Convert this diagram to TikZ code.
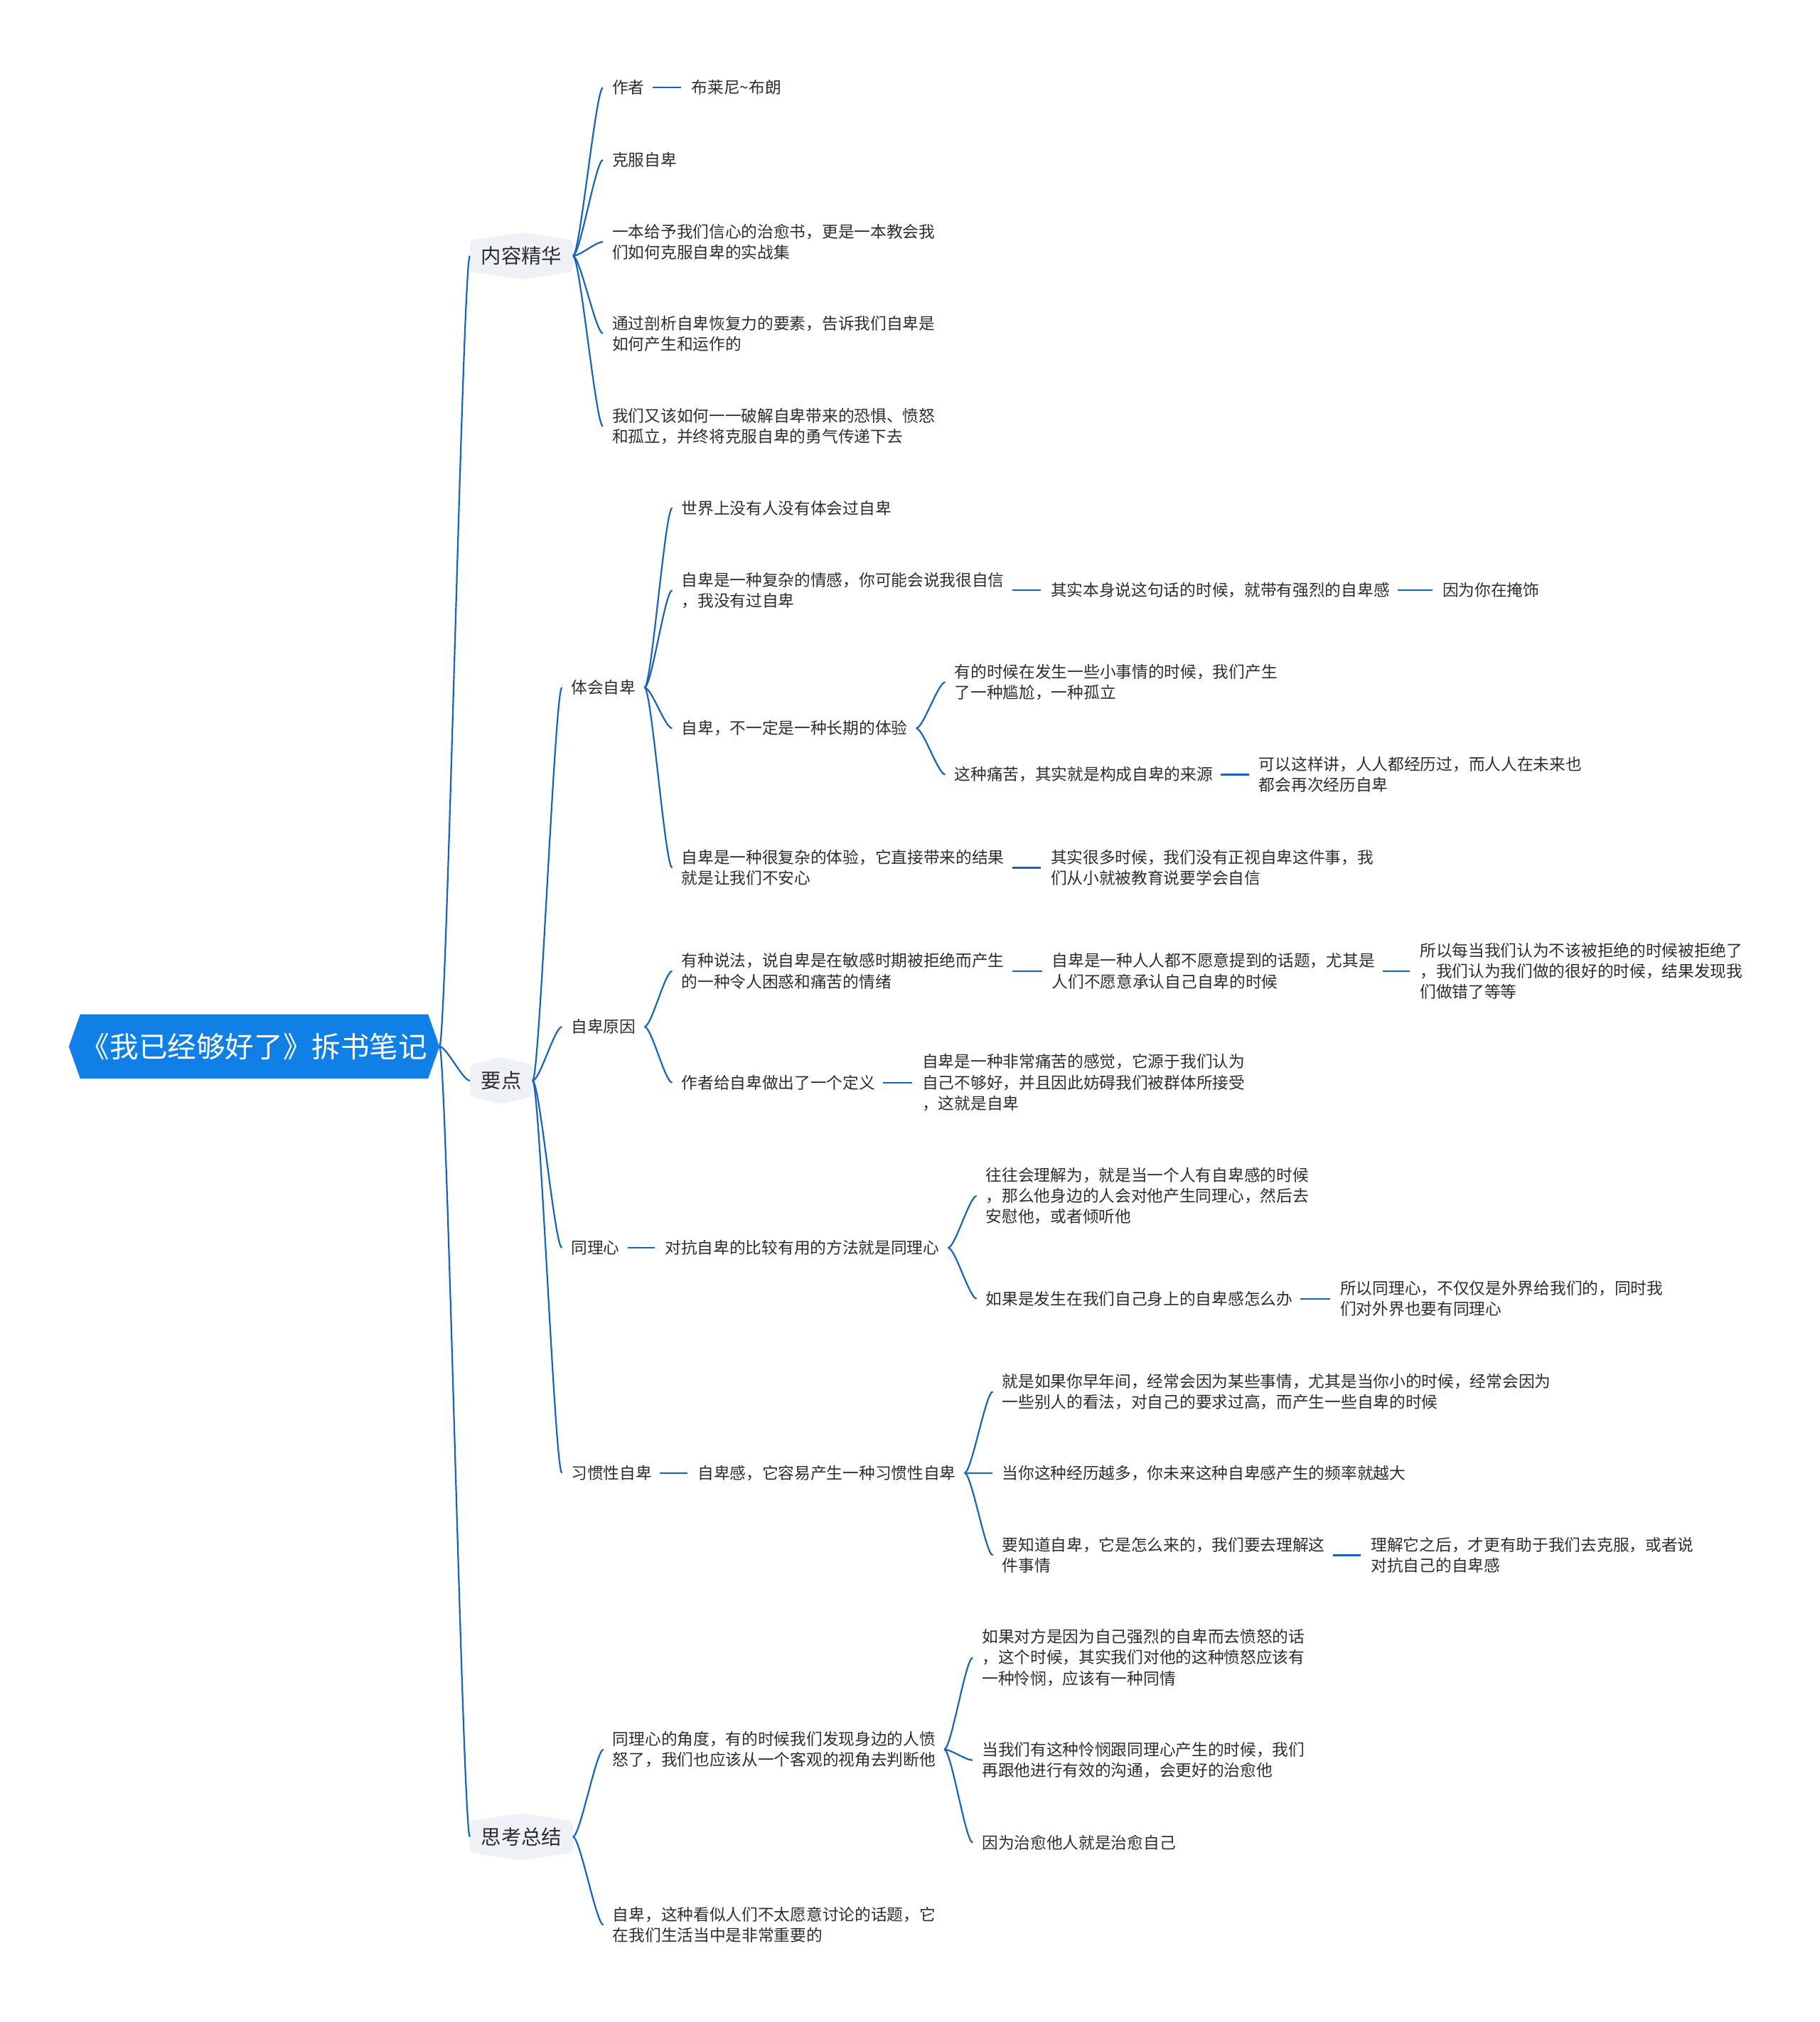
\documentclass[tikz,border=0pt]{standalone}
\usepackage{fontspec}
\setmainfont{Noto Sans CJK SC}
\usetikzlibrary{backgrounds}
\definecolor{lineblue}{RGB}{24,100,188}
\definecolor{rootblue}{RGB}{16,128,230}
\definecolor{hexfill}{RGB}{238,241,245}
\definecolor{txtc}{RGB}{45,45,45}
\tikzset{
  leaf/.style={font=\fontsize{22.7pt}{29.2pt}\selectfont, text=txtc, align=left, inner sep=0pt, anchor=west},
  topic/.style={font=\fontsize{28.4pt}{34pt}\selectfont, text=txtc, inner xsep=15.5pt, inner ysep=0pt, minimum height=66pt, anchor=west},
  conn/.style={draw=lineblue, line width=2.2pt},
  hexbg/.style={fill=hexfill, rounded corners=6pt}
}
\newcommand\mycurve[2]{\draw[conn] (#1) .. controls +(5.5,0) and +(-5.5,0) .. ([xshift=-13pt]#2.west);}
\newcommand\mylink[2]{\draw[conn] ([xshift=11pt]#1.east) -- ([xshift=-14pt]#2.west);}
\newcommand\hexof[1]{\fill[hexbg] ([yshift=-11pt]#1.north west) -- (#1.north) -- ([yshift=-11pt]#1.north east) -- ([yshift=11pt]#1.south east) -- (#1.south) -- ([yshift=11pt]#1.south west) -- cycle;}
\begin{document}
\begin{tikzpicture}[x=1.81432pt,y=-1.81432pt]
\useasboundingbox (0,0) rectangle (1411,1567.6);

% root
\node[font=\fontsize{40.6pt}{46pt}\selectfont, text=white, inner sep=0pt, minimum width=489pt, minimum height=90pt] (root) at (197.05,811.3) {《我已经够好了》拆书笔记};
\coordinate (rootR) at ([xshift=16pt]root.east);
\begin{scope}[on background layer]
\fill[rootblue] (root.north west) -- (root.north east) -- (rootR) -- (root.south east) -- (root.south west) -- ([xshift=-16pt]root.west) -- cycle;
\end{scope}

% level 1
\node[topic] (k1) at (364.3,198.4) {内容精华};
\node[topic] (k2) at (364.3,837.8) {要点};
\node[topic] (k3) at (364.3,1424.0) {思考总结};
\begin{scope}[on background layer]
\hexof{k1}\hexof{k2}\hexof{k3}
\end{scope}

% 内容精华
\node[leaf] (a1) at (474.6,68) {作者};
\node[leaf] (a1b) at (536,68) {布莱尼\textasciitilde 布朗};
\node[leaf] (a2) at (474.6,124) {克服自卑};
\node[leaf] (a3) at (474.6,187.5) {一本给予我们信心的治愈书，更是一本教会我\\们如何克服自卑的实战集};
\node[leaf] (a4) at (474.6,258.5) {通过剖析自卑恢复力的要素，告诉我们自卑是\\如何产生和运作的};
\node[leaf] (a5) at (474.6,330.5) {我们又该如何一一破解自卑带来的恐惧、愤怒\\和孤立，并终将克服自卑的勇气传递下去};

% 要点
\node[leaf] (b1) at (442.8,533) {体会自卑};
\node[leaf] (b2) at (442.8,796) {自卑原因};
\node[leaf] (b3) at (442.8,967.3) {同理心};
\node[leaf] (b4) at (442.8,1141.9) {习惯性自卑};

\node[leaf] (c1) at (528.3,393.8) {世界上没有人没有体会过自卑};
\node[leaf] (c2) at (528.3,457.6) {自卑是一种复杂的情感，你可能会说我很自信\\，我没有过自卑};
\node[leaf] (c2a) at (814.6,457.6) {其实本身说这句话的时候，就带有强烈的自卑感};
\node[leaf] (c2b) at (1118.3,457.6) {因为你在掩饰};
\node[leaf] (c3) at (528.3,564.6) {自卑，不一定是一种长期的体验};
\node[leaf] (c3a) at (740,528.8) {有的时候在发生一些小事情的时候，我们产生\\了一种尴尬，一种孤立};
\node[leaf] (c3b) at (740,600.5) {这种痛苦，其实就是构成自卑的来源};
\node[leaf] (c3c) at (976,600.5) {可以这样讲，人人都经历过，而人人在未来也\\都会再次经历自卑};
\node[leaf] (c4) at (528.3,672.7) {自卑是一种很复杂的体验，它直接带来的结果\\就是让我们不安心};
\node[leaf] (c4a) at (814.6,672.7) {其实很多时候，我们没有正视自卑这件事，我\\们从小就被教育说要学会自信};

\node[leaf] (d1) at (528.3,752.8) {有种说法，说自卑是在敏感时期被拒绝而产生\\的一种令人困惑和痛苦的情绪};
\node[leaf] (d1a) at (815.5,752.8) {自卑是一种人人都不愿意提到的话题，尤其是\\人们不愿意承认自己自卑的时候};
\node[leaf] (d1b) at (1100.8,752.8) {所以每当我们认为不该被拒绝的时候被拒绝了\\，我们认为我们做的很好的时候，结果发现我\\们做错了等等};
\node[leaf] (d2) at (528.3,839.3) {作者给自卑做出了一个定义};
\node[leaf] (d2a) at (714.9,839.3) {自卑是一种非常痛苦的感觉，它源于我们认为\\自己不够好，并且因此妨碍我们被群体所接受\\，这就是自卑};

\node[leaf] (e1) at (515.5,967.3) {对抗自卑的比较有用的方法就是同理心};
\node[leaf] (e1a) at (764.3,927.2) {往往会理解为，就是当一个人有自卑感的时候\\，那么他身边的人会对他产生同理心，然后去\\安慰他，或者倾听他};
\node[leaf] (e1b) at (764.3,1006.8) {如果是发生在我们自己身上的自卑感怎么办};
\node[leaf] (e1c) at (1039,1006.8) {所以同理心，不仅仅是外界给我们的，同时我\\们对外界也要有同理心};

\node[leaf] (f1) at (540.8,1141.9) {自卑感，它容易产生一种习惯性自卑};
\node[leaf] (f1a) at (776.9,1078.9) {就是如果你早年间，经常会因为某些事情，尤其是当你小的时候，经常会因为\\一些别人的看法，对自己的要求过高，而产生一些自卑的时候};
\node[leaf] (f1b) at (776.9,1141.9) {当你这种经历越多，你未来这种自卑感产生的频率就越大};
\node[leaf] (f1c) at (776.9,1205.7) {要知道自卑，它是怎么来的，我们要去理解这\\件事情};
\node[leaf] (f1d) at (1062.9,1205.7) {理解它之后，才更有助于我们去克服，或者说\\对抗自己的自卑感};

% 思考总结
\node[leaf] (g1) at (475,1356.3) {同理心的角度，有的时候我们发现身边的人愤\\怒了，我们也应该从一个客观的视角去判断他};
\node[leaf] (g1a) at (761.3,1285.1) {如果对方是因为自己强烈的自卑而去愤怒的话\\，这个时候，其实我们对他的这种愤怒应该有\\一种怜悯，应该有一种同情};
\node[leaf] (g1b) at (761.3,1364.6) {当我们有这种怜悯跟同理心产生的时候，我们\\再跟他进行有效的沟通，会更好的治愈他};
\node[leaf] (g1c) at (761.3,1428.5) {因为治愈他人就是治愈自己};
\node[leaf] (g2) at (475,1492.3) {自卑，这种看似人们不太愿意讨论的话题，它\\在我们生活当中是非常重要的};

% connectors: root
\foreach \k in {k1,k2,k3}
  \draw[conn] (rootR) .. controls +(5.5,0) and +(-5.5,0) .. (\k.west);

% 内容精华 fan
\foreach \c in {a1,a2,a3,a4,a5} { \mycurve{k1.east}{\c} }
\mylink{a1}{a1b}

% 要点 fan
\foreach \c in {b1,b2,b3,b4} { \mycurve{k2.east}{\c} }
\foreach \c in {c1,c2,c3,c4} { \mycurve{[xshift=12pt]b1.east}{\c} }
\mylink{c2}{c2a}
\mylink{c2a}{c2b}
\foreach \c in {c3a,c3b} { \mycurve{[xshift=12pt]c3.east}{\c} }
\mylink{c3b}{c3c}
\mylink{c4}{c4a}

\foreach \c in {d1,d2} { \mycurve{[xshift=12pt]b2.east}{\c} }
\mylink{d1}{d1a}
\mylink{d1a}{d1b}
\mylink{d2}{d2a}

\mylink{b3}{e1}
\foreach \c in {e1a,e1b} { \mycurve{[xshift=12pt]e1.east}{\c} }
\mylink{e1b}{e1c}

\mylink{b4}{f1}
\foreach \c in {f1a,f1b,f1c} { \mycurve{[xshift=12pt]f1.east}{\c} }
\mylink{f1c}{f1d}

% 思考总结 fan
\foreach \c in {g1,g2} { \mycurve{k3.east}{\c} }
\foreach \c in {g1a,g1b,g1c} { \mycurve{[xshift=12pt]g1.east}{\c} }
\end{tikzpicture}
\end{document}
